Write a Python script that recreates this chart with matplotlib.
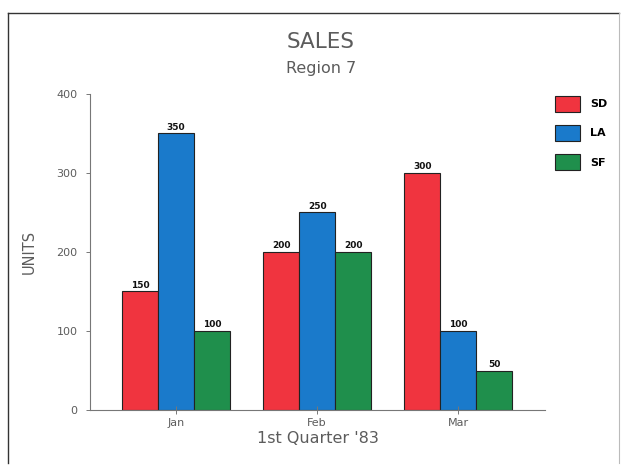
import matplotlib
matplotlib.use("Agg")
import matplotlib.pyplot as plt
import numpy as np
from matplotlib.lines import Line2D

months = ["Jan", "Feb", "Mar"]
regions = ["SD", "LA", "SF"]
sd = [150, 200, 300]
la = [350, 250, 100]
sf = [100, 200, 50]
colors = ["#f0343f", "#1a7acb", "#1f8f4c"]

plt.rcParams["font.family"] = ["DejaVu Sans"]
TXT = "#5c5c5c"

fig = plt.figure(figsize=(6.21, 4.67), dpi=100)
fw, fh = 621, 467
ax = fig.add_axes([0.145, 0.122, 0.733, 0.677])

x = np.arange(len(months))
w = 0.255
for i, (vals, c) in enumerate(zip([sd, la, sf], colors)):
    bars = ax.bar(x + (i - 1) * w, vals, w, color=c, edgecolor="#222222",
                  linewidth=0.8, label=regions[i])
    for b, v in zip(bars, vals):
        ax.text(b.get_x() + b.get_width() / 2, v + 2, str(v), ha="center",
                va="bottom", fontsize=6.5, fontweight="bold", color="#111111")

ax.set_xlim(-0.61, 2.617)
ax.set_ylim(0, 400)
ax.set_yticks([0, 100, 200, 300, 400])
ax.set_xticks(x)
ax.set_xticklabels(months)
ax.tick_params(axis="y", length=3, width=0.7, color="#777777", labelsize=8,
               labelcolor=TXT, pad=6)
ax.tick_params(axis="x", direction="inout", length=6, width=0.7,
               color="#777777", labelsize=8, labelcolor=TXT, pad=3)
for s in ["top", "right"]:
    ax.spines[s].set_visible(False)
for s in ["left", "bottom"]:
    ax.spines[s].set_color("#777777")
    ax.spines[s].set_linewidth(0.8)

ax.set_ylabel("UNITS", fontsize=10.5, color=TXT, labelpad=14)
ax.set_xlabel("1st Quarter '83", fontsize=11.5, color=TXT, labelpad=2)

fig.text(0.517, 1 - 42 / fh, "SALES", ha="center", va="center", fontsize=15.5,
         color=TXT)
fig.text(0.517, 1 - 69 / fh, "Region 7", ha="center", va="center",
         fontsize=11.5, color=TXT)

leg = ax.legend(loc="upper left", bbox_to_anchor=(555 / fw, 1 - 96 / fh),
                bbox_transform=fig.transFigure, frameon=False, borderpad=0,
                borderaxespad=0, handlelength=2.25, handleheight=1.8,
                labelspacing=1.2, handletextpad=0.9,
                prop={"size": 8, "weight": "bold"})

# page frame
kw = dict(color="#333333", linewidth=1.0, transform=fig.transFigure)
fig.add_artist(Line2D([8 / fw, 619 / fw], [1 - 13 / fh, 1 - 13 / fh], **kw))
fig.add_artist(Line2D([8 / fw, 8 / fw], [1 - 13 / fh, 1 - 463 / fh], **kw))
fig.add_artist(Line2D([619 / fw, 619 / fw], [1 - 13 / fh, 1 - 463 / fh],
                      color="#bbbbbb", linewidth=0.8,
                      transform=fig.transFigure))

fig.savefig("out.png", dpi=100)
